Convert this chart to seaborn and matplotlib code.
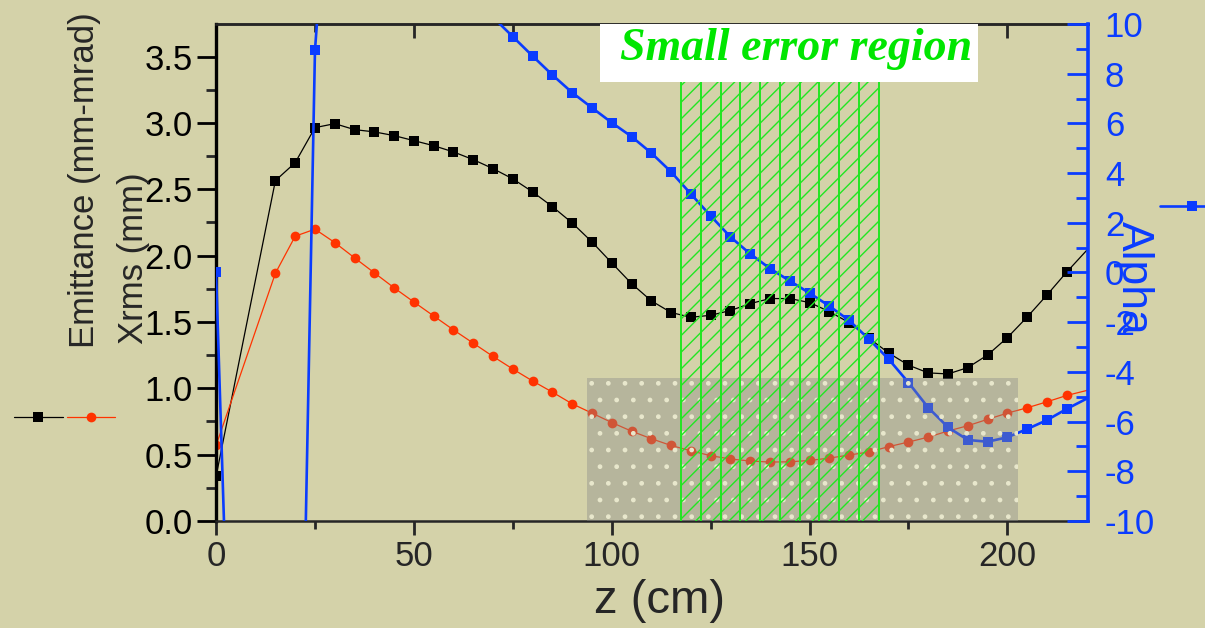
import numpy as np
import pandas as pd
import matplotlib
matplotlib.use("Agg")
import matplotlib.pyplot as plt
from matplotlib.ticker import MultipleLocator, FormatStrFormatter
import seaborn as sns

# z positions along the beamline (cm)
z_cm = [0, 15, 20, 25, 30, 35, 40, 45, 50, 55, 60, 65, 70, 75, 80, 85, 90, 95,
        100, 105, 110, 115, 120, 125, 130, 135, 140, 145, 150, 155, 160, 165,
        170, 175, 180, 185, 190, 195, 200, 205, 210, 215, 225]

emittance = [0.336, 2.565, 2.700, 2.964, 2.994, 2.949, 2.932, 2.904, 2.866, 2.828,
             2.781, 2.723, 2.655, 2.578, 2.480, 2.369, 2.246, 2.103, 1.945, 1.789,
             1.659, 1.571, 1.535, 1.550, 1.586, 1.638, 1.676, 1.676, 1.646, 1.578,
             1.495, 1.378, 1.266, 1.174, 1.116, 1.108, 1.156, 1.251, 1.382, 1.537,
             1.703, 1.876, 2.200]

xrms = [0.569, 1.867, 2.146, 2.199, 2.098, 1.983, 1.870, 1.757, 1.650, 1.545,
        1.440, 1.340, 1.240, 1.145, 1.055, 0.971, 0.883, 0.813, 0.742, 0.677,
        0.620, 0.569, 0.529, 0.492, 0.467, 0.452, 0.444, 0.446, 0.456, 0.474,
        0.497, 0.520, 0.560, 0.595, 0.632, 0.678, 0.718, 0.766, 0.813, 0.853,
        0.898, 0.946, 1.020]

alpha = [0.0, -75.0, -32.0, 8.95, 19.7, 21.0, 20.0, 18.5, 17.0, 15.3, 13.6, 11.9,
         10.27, 9.49, 8.71, 7.95, 7.24, 6.63, 6.03, 5.47, 4.81, 4.05, 3.16, 2.28,
         1.43, 0.75, 0.16, -0.34, -0.83, -1.35, -1.93, -2.68, -3.49, -4.43, -5.44,
         -6.23, -6.74, -6.81, -6.63, -6.30, -5.94, -5.49, -4.67]

# shaded regions (z in cm)
grey_span = (93.7, 202.8)
grey_top = 1.076
small_error_span = (117.5, 167.5)
small_error_lines = [117.5, 122.5, 127.5, 132.5, 137.5, 142.5, 147.5, 152.5,
                     157.5, 162.5, 167.5]
label_box_span = (97.0, 192.6)

BG = "#d4d2a9"
BLUE = "#0a3cff"
RED = "#ff3300"
GREEN = "#22e622"

sns.set_theme(style="ticks", rc={"axes.facecolor": BG, "figure.facecolor": BG})
plt.rcParams["font.family"] = ["Liberation Sans", "DejaVu Sans"]
plt.rcParams["axes.unicode_minus"] = False
plt.rcParams["hatch.linewidth"] = 1.0

df = pd.DataFrame({"z": z_cm, "emittance": emittance, "xrms": xrms, "alpha": alpha})

fig = plt.figure(figsize=(12.05, 6.28), dpi=100)
ax = fig.add_axes([0.1793, 0.1704, 0.7237, 0.7914])
ax2 = ax.twinx()

sns.lineplot(data=df, x="z", y="emittance", ax=ax, color="black", marker="s",
             markersize=6.8, markeredgewidth=0, linewidth=0.9)
sns.lineplot(data=df, x="z", y="xrms", ax=ax, color=RED, marker="o",
             markersize=7, markeredgewidth=0, linewidth=0.9)
sns.lineplot(data=df, x="z", y="alpha", ax=ax2, color=BLUE, marker="s",
             markersize=6.5, markeredgewidth=0, linewidth=1.9)

ax.set_xlim(0, 220.4)
ax.set_ylim(0, 3.745)
ax2.set_ylim(-10, 10)

# regions drawn over the curves
ymax_frac = grey_top / 3.745
ax2.axvspan(*grey_span, ymin=0, ymax=ymax_frac, facecolor="#8a8a8a", alpha=0.4,
            linewidth=0, zorder=5)
ax2.axvspan(*grey_span, ymin=0, ymax=ymax_frac, facecolor="none", edgecolor="#e8e7cc",
            hatch=".", linewidth=0, zorder=5)
ax2.axvspan(*small_error_span, facecolor="none", edgecolor=GREEN, hatch="//",
            linewidth=0, zorder=6)
for xv in small_error_lines:
    ax2.axvline(xv, color=GREEN, linewidth=1.4, zorder=6)
ax2.axvspan(*label_box_span, ymin=0.8833, ymax=1, facecolor="white", linewidth=0, zorder=7)
ax2.text(102.0, 0.9276, "Small error region", transform=ax2.get_xaxis_transform(),
         family="Liberation Serif", weight="bold", style="italic", fontsize=33,
         color="#00e600", va="baseline", ha="left", zorder=8, clip_on=False)

# left axis
ax.yaxis.set_major_locator(MultipleLocator(0.5))
ax.yaxis.set_minor_locator(MultipleLocator(0.25))
ax.yaxis.set_major_formatter(FormatStrFormatter("%.1f"))
ax.xaxis.set_major_locator(MultipleLocator(50))
ax.xaxis.set_minor_locator(MultipleLocator(25))
ax.tick_params(axis="y", which="major", direction="out", length=14, width=2,
               labelsize=25, pad=3, colors="black")
ax.tick_params(axis="y", which="minor", direction="out", length=7, width=2)
ax.tick_params(axis="x", which="major", direction="out", length=10, width=2,
               labelsize=25, pad=4)
ax.tick_params(axis="x", which="minor", direction="out", length=6, width=2)
ax.spines["left"].set_linewidth(2.4)
ax.spines["left"].set_color("black")
ax.spines["bottom"].set_linewidth(1.8)
ax.spines["top"].set_linewidth(1.8)
ax.spines["top"].set_visible(True)
ax.spines["right"].set_visible(False)

top = ax.secondary_xaxis("top")
top.xaxis.set_major_locator(MultipleLocator(50))
top.xaxis.set_minor_locator(MultipleLocator(25))
top.tick_params(axis="x", which="major", direction="in", length=10, width=2, labeltop=False)
top.tick_params(axis="x", which="minor", direction="in", length=6, width=2)
top.spines["top"].set_linewidth(1.8)

# right axis
for side in ["left", "top", "bottom"]:
    ax2.spines[side].set_visible(False)
ax2.spines["right"].set_visible(True)
ax2.spines["right"].set_color(BLUE)
ax2.spines["right"].set_linewidth(2.6)
ax2.yaxis.set_major_locator(MultipleLocator(2))
ax2.yaxis.set_minor_locator(MultipleLocator(1))
ax2.yaxis.set_major_formatter(FormatStrFormatter("%d"))
ax2.tick_params(axis="y", which="major", direction="in", length=15, width=2,
                colors=BLUE, labelsize=25, pad=12)
ax2.tick_params(axis="y", which="minor", direction="in", length=9, width=2, colors=BLUE)

# labels
ax.set_xlabel("z (cm)", fontsize=34, va="top")
ax.xaxis.set_label_coords(0.509, -0.117)
ax.set_ylabel("Emittance (mm-mrad)", fontsize=25, va="center")
ax.yaxis.set_label_coords(-0.1514, 0.686)
ax.text(-0.095, 0.529, "Xrms (mm)", rotation=90, ha="center", va="center",
        fontsize=25, transform=ax.transAxes)
ax2.set_ylabel("Alpha", fontsize=32, color=BLUE, rotation=270, va="center")
ax2.yaxis.set_label_coords(1.0516, 0.489)

# legends without text
h_emit, h_xrms = ax.lines[0], ax.lines[1]
h_alpha = ax2.lines[0]
fig.legend([h_emit, h_xrms], ["", ""], ncol=2, loc="center left",
           bbox_to_anchor=(0.0116, 1 - 418 / 628), frameon=False, fontsize=10,
           handlelength=3.5, columnspacing=0.3, handletextpad=0, borderpad=0,
           borderaxespad=0)
fig.legend([h_alpha], [""], loc="center left", bbox_to_anchor=(1160 / 1205, 1 - 207 / 628),
           frameon=False, fontsize=10, handlelength=4.6, handletextpad=0,
           borderpad=0, borderaxespad=0)

fig.savefig("out.png", dpi=100, facecolor=BG)
